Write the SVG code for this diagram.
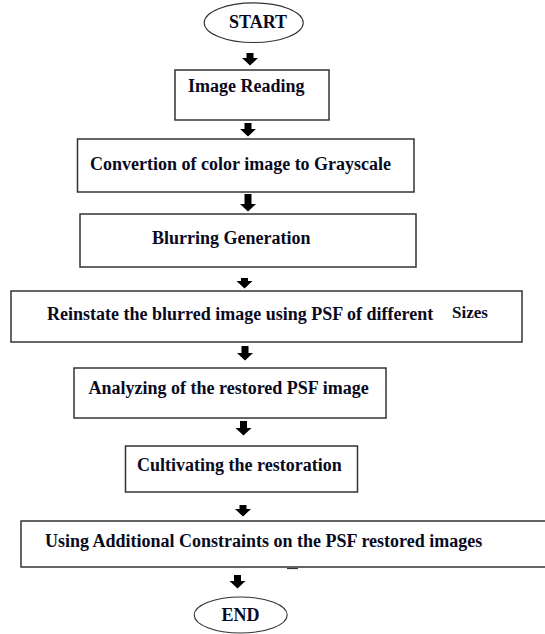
<svg xmlns="http://www.w3.org/2000/svg" width="545" height="634" viewBox="0 0 545 634">
<style>
.box{fill:#fff;stroke:#333;stroke-width:1.5}
.term{fill:#fff;stroke:#333;stroke-width:1.1}
.t{font-weight:bold;font-size:18px;fill:#0a0a1e}
.arr{fill:#000}
</style>
<rect width="545" height="634" fill="#fff"/>
<g id="connectors">
<path class="arr" d="M246.5,53 h7 v5 h4.5 l-8,7.5 l-8,-7.5 h4.5 z"/>
<path class="arr" d="M244.5,123 h7 v6 h4.5 l-8,7.5 l-8,-7.5 h4.5 z"/>
<path class="arr" d="M244.5,194 h7 v10 h4.5 l-8,7.5 l-8,-7.5 h4.5 z"/>
<path class="arr" d="M241,278 h7 v3 h4.5 l-8,7.5 l-8,-7.5 h4.5 z"/>
<path class="arr" d="M241.5,346 h7 v7 h4.5 l-8,7.5 l-8,-7.5 h4.5 z"/>
<path class="arr" d="M240,421 h7 v7 h4.5 l-8,7.5 l-8,-7.5 h4.5 z"/>
<path class="arr" d="M239.5,505 h7 v4 h4.5 l-8,7.5 l-8,-7.5 h4.5 z"/>
<path class="arr" d="M234,575 h7 v6 h4.5 l-8,7.5 l-8,-7.5 h4.5 z"/>
</g>
<g font-family="Liberation Serif, Times New Roman, serif">
<g id="start">
<ellipse class="term" cx="253.7" cy="22.7" rx="49.5" ry="19.8"/>
<text class="t" x="229" y="27.5">START</text>
</g>
<g id="image-reading">
<rect class="box" x="175" y="70" width="154" height="50"/>
<text class="t" x="188" y="92">Image Reading</text>
</g>
<g id="convertion">
<rect class="box" x="77.5" y="139" width="336.5" height="53"/>
<text class="t" x="90" y="169.5">Convertion of color image to Grayscale</text>
</g>
<g id="blurring">
<rect class="box" x="80" y="214" width="336" height="53"/>
<text class="t" x="152" y="243.5">Blurring Generation</text>
</g>
<g id="reinstate">
<rect class="box" x="11" y="291" width="511" height="51"/>
<text class="t" x="47" y="320">Reinstate the blurred image using PSF of different<tspan x="452" y="317.5" font-size="17">Sizes</tspan></text>
</g>
<g id="analyzing">
<rect class="box" x="74" y="368" width="312" height="50"/>
<text class="t" x="88.5" y="393.5">Analyzing of the restored PSF image</text>
</g>
<g id="cultivating">
<rect class="box" x="125.5" y="446" width="232" height="46"/>
<text class="t" x="137" y="470.5">Cultivating the restoration</text>
</g>
<g id="constraints">
<rect class="box" x="21" y="521" width="530" height="46"/>
<text class="t" x="45" y="546.5">Using Additional Constraints on the PSF restored images</text>
<line x1="287" y1="568.5" x2="298" y2="568.5" stroke="#333" stroke-width="1.2"/>
</g>
<g id="end">
<ellipse class="term" cx="240.7" cy="615" rx="46.5" ry="18"/>
<text class="t" x="221.5" y="620.5">END</text>
</g>
</g>
</svg>
